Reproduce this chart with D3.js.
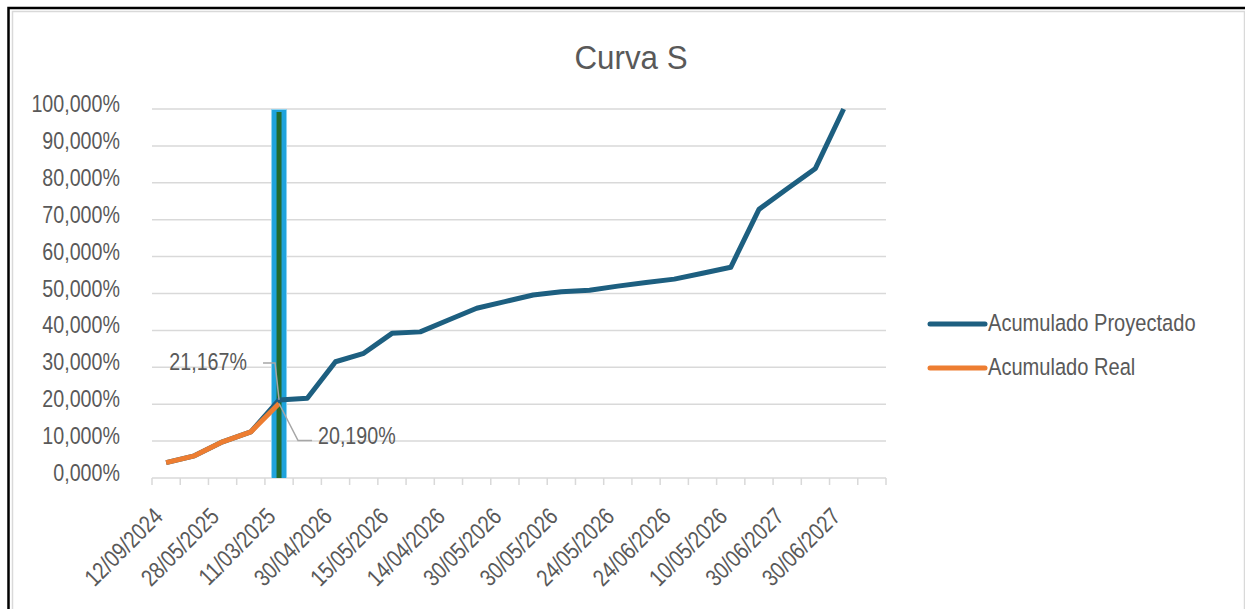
<!doctype html>
<html lang="es">
<head>
<meta charset="utf-8">
<title>Curva S</title>
<script src="https://d3js.org/d3.v7.min.js"></script>
<style>
  html, body { margin: 0; padding: 0; background: #fff; }
  svg { display: block; }
  text { font-family: "Liberation Sans", Arial, sans-serif; fill: #595959; }
</style>
</head>
<body>
<div id="grafico"></div>
<script>
// datos (en %)
var nCategorias = 26;
var etiquetasX = ["12/09/2024", "28/05/2025", "11/03/2025", "30/04/2026", "15/05/2026", "14/04/2026",
                  "30/05/2026", "30/05/2026", "24/05/2026", "24/06/2026", "10/05/2026", "30/06/2027", "30/06/2027"];
var proyectado = [4.15, 6.0, 9.8, 12.5, 21.167, 21.6, 31.5, 33.8, 39.2, 39.6, 42.8, 46.0, 47.8,
                  49.6, 50.5, 50.9, 52.0, 53.0, 53.9, 55.5, 57.1, 72.8, 78.4, 83.9, 100];
var real = [4.15, 6.0, 9.8, 12.5, 20.19];
var ticksY = [0, 10, 20, 30, 40, 50, 60, 70, 80, 90, 100];
var corte = 4; // indice de la fecha de corte (linea vertical)

var w = 1245, h = 609;
var azul = "#1d5f80", naranjo = "#ed7d31";
var angosto = 0.82; // simula Arial Narrow

var svg = d3.select("#grafico").append("svg")
  .attr("width", w)
  .attr("height", h);

svg.append("rect").attr("width", w).attr("height", h).attr("fill", "#fff");

// marco
svg.append("rect")
  .attr("x", 12.5).attr("y", 11.5).attr("width", 1232).attr("height", 620)
  .attr("fill", "none").attr("stroke", "#d9d9d9").attr("stroke-width", 1.5);
svg.append("path")
  .attr("d", "M8.5," + h + "V8H" + w)
  .attr("fill", "none").attr("stroke", "#000").attr("stroke-width", 2.5);

var x = d3.scaleBand()
  .domain(d3.range(nCategorias))
  .range([152, 886])
  .padding(0);

var y = d3.scaleLinear()
  .domain([0, 100])
  .range([478, 109]);

function cx(i) { return x(i) + x.bandwidth() / 2; }
function fmt(v) { return v.toFixed(3).replace(".", ",") + "%"; }

// texto angosto: traslada, rota y escala en x
function texto(padre, tx, ty, s, size, anchor, sx, rot) {
  return padre.append("text")
    .attr("transform", "translate(" + tx + "," + ty + ")" + (rot ? " rotate(" + rot + ")" : "") + " scale(" + sx + ",1)")
    .attr("text-anchor", anchor || "start")
    .style("font-size", size + "px")
    .text(s);
}

// titulo
texto(svg, 631, 69, "Curva S", 33, "middle", 0.95);

// grilla horizontal
svg.selectAll("line.grilla")
  .data(ticksY.filter(function(d) { return d > 0; }))
  .enter()
  .append("line")
  .attr("class", "grilla")
  .attr("x1", 152).attr("x2", 886)
  .attr("y1", function(d) { return y(d); })
  .attr("y2", function(d) { return y(d); })
  .attr("stroke", "#d9d9d9").attr("stroke-width", 1.5);

// etiquetas eje y
ticksY.forEach(function(d) {
  texto(svg, 120, y(d) + 3, fmt(d), 24, "end", angosto);
});

// eje x
svg.append("line")
  .attr("x1", 152).attr("x2", 886)
  .attr("y1", y(0)).attr("y2", y(0))
  .attr("stroke", "#d9d9d9").attr("stroke-width", 1.5);

var bordes = d3.range(nCategorias).map(function(i) { return x(i); }).concat([x.range()[1]]);
svg.selectAll("line.tick")
  .data(bordes)
  .enter()
  .append("line")
  .attr("class", "tick")
  .attr("x1", function(d) { return d; })
  .attr("x2", function(d) { return d; })
  .attr("y1", y(0)).attr("y2", y(0) + 7)
  .attr("stroke", "#d9d9d9").attr("stroke-width", 1.5);

etiquetasX.forEach(function(d, i) {
  texto(svg, cx(i * 2) - 2, 518, d, 24, "end", angosto, -45);
});

// linea vertical de corte
svg.append("line")
  .attr("x1", cx(corte)).attr("x2", cx(corte))
  .attr("y1", y(0)).attr("y2", y(100))
  .attr("stroke", "#8fd3f0").attr("stroke-width", 16);
svg.append("line")
  .attr("x1", cx(corte)).attr("x2", cx(corte))
  .attr("y1", y(0)).attr("y2", y(100) + 1)
  .attr("stroke", "#1fa3dc").attr("stroke-width", 14);
svg.append("line")
  .attr("x1", cx(corte)).attr("x2", cx(corte))
  .attr("y1", y(0)).attr("y2", y(100) + 3)
  .attr("stroke", "#236b2f").attr("stroke-width", 5);

// series
var linea = d3.line()
  .x(function(d, i) { return cx(i); })
  .y(function(d) { return y(d); });

svg.append("path")
  .datum(proyectado)
  .attr("d", linea)
  .attr("fill", "none")
  .attr("stroke", azul)
  .attr("stroke-width", 5)
  .attr("stroke-linejoin", "round");

svg.append("path")
  .datum(real)
  .attr("d", linea)
  .attr("fill", "none")
  .attr("stroke", naranjo)
  .attr("stroke-width", 5)
  .attr("stroke-linejoin", "round");

// etiquetas de datos con lineas guia
var px = cx(corte);
svg.append("polyline")
  .attr("points", [[px - 16, y(proyectado[corte]) - 37], [px - 4, y(proyectado[corte]) - 37], [px, y(proyectado[corte])]].join(" "))
  .attr("fill", "none").attr("stroke", "#a6a6a6").attr("stroke-width", 1.5);
texto(svg, 247, y(proyectado[corte]) - 30, fmt(proyectado[corte]), 24, "end", angosto);

svg.append("polyline")
  .attr("points", [[px, y(real[corte])], [px + 19, y(real[corte]) + 37], [px + 33, y(real[corte]) + 37]].join(" "))
  .attr("fill", "none").attr("stroke", "#a6a6a6").attr("stroke-width", 1.5);
texto(svg, 318, y(real[corte]) + 41, fmt(real[corte]), 24, "start", angosto);

// leyenda
var leyenda = [{ nombre: "Acumulado Proyectado", color: azul }, { nombre: "Acumulado Real", color: naranjo }];
var lg = svg.selectAll("g.leyenda")
  .data(leyenda)
  .enter()
  .append("g")
  .attr("class", "leyenda")
  .attr("transform", function(d, i) { return "translate(930," + (324 + i * 44) + ")"; });
lg.append("line")
  .attr("x1", 0).attr("x2", 55)
  .attr("stroke", function(d) { return d.color; })
  .attr("stroke-width", 5)
  .attr("stroke-linecap", "round");
lg.each(function(d) {
  texto(d3.select(this), 58, 7, d.nombre, 24.5, "start", angosto);
});
</script>
</body>
</html>
